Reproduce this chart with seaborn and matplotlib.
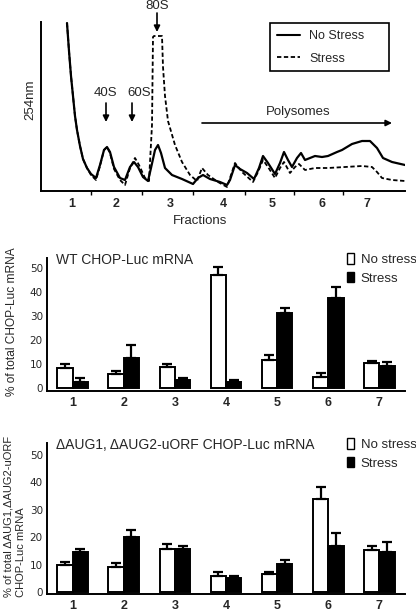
import numpy as np
import pandas as pd
import matplotlib
matplotlib.use("Agg")
import matplotlib.pyplot as plt
import seaborn as sns
from matplotlib.patches import Patch
from matplotlib.lines import Line2D

# ---- polysome profile (A254 trace) ----
# x = position along the gradient, y = absorbance (arbitrary units)
no_stress_x = [26, 28, 30, 32, 34, 36, 39, 42, 46, 50, 55, 59, 63, 66, 69, 73, 79, 84, 89, 93,
               97, 102, 107, 110, 114, 117, 120, 124, 131, 141, 152, 157, 162, 169, 179, 186,
               189, 194, 199, 206, 213, 218, 222, 227, 234, 239, 243, 247, 251, 256, 260, 264,
               269, 274, 281, 287, 296, 301, 311, 321, 329, 336, 342, 351, 364]
no_stress_y = [168, 140, 115, 95, 75, 61, 45, 32, 23, 17, 13, 26, 41, 44, 39, 24, 13, 11, 24, 29,
               24, 14, 10, 23, 41, 46, 38, 23, 16, 12, 7, 13, 16, 12, 9, 6,
               11, 26, 22, 18, 12, 23, 35, 28, 17, 28, 39, 31, 24, 33, 38, 31,
               33, 35, 34, 35, 39, 41, 47, 50, 50, 43, 33, 29, 26]
stress_x = [26, 28, 30, 32, 34, 36, 39, 42, 46, 50, 55, 59, 63, 66, 69, 73, 79, 84, 89, 94,
            98, 104, 108, 111, 112, 113, 121, 122, 124, 127, 134, 141, 149, 156, 161, 167,
            177, 186, 189, 194, 201, 212, 217, 222, 227, 234, 239, 243, 249, 254, 258, 264,
            274, 287, 304, 321, 331, 336, 341, 351, 364]
stress_y = [168, 140, 115, 95, 75, 61, 45, 32, 23, 16, 11, 25, 41, 44, 38, 22, 11, 6, 23, 33,
            26, 13, 10, 66, 154, 155, 155, 124, 95, 70, 46, 29, 16, 10, 23, 16,
            9, 4, 13, 28, 19, 9, 19, 31, 24, 13, 23, 29, 18, 24, 27, 21,
            23, 23, 24, 25, 24, 19, 13, 11, 10]
fraction_boundaries = [50, 101, 152, 204, 253, 302]
fraction_label_pos = [31, 75, 129, 182, 231, 281, 326]
fraction_labels = ["1", "2", "3", "4", "5", "6", "7"]

# ---- qPCR distribution across fractions ----
fractions = ["1", "2", "3", "4", "5", "6", "7"]
wt_no_stress = [8.5, 5.8, 8.8, 47.1, 11.7, 4.8, 10.3]
wt_no_stress_err = [1.7, 1.4, 1.4, 3.2, 1.9, 1.3, 1.0]
wt_stress = [2.6, 12.7, 3.3, 2.6, 31.0, 37.5, 9.2]
wt_stress_err = [1.4, 5.1, 1.1, 0.7, 2.1, 4.5, 1.8]

mut_no_stress = [9.8, 9.0, 15.6, 5.9, 6.5, 33.8, 15.3]
mut_no_stress_err = [1.0, 1.7, 1.9, 1.3, 0.9, 4.3, 1.5]
mut_stress = [14.4, 20.1, 15.6, 5.2, 10.2, 16.8, 14.4]
mut_stress_err = [1.2, 2.4, 1.2, 0.7, 1.4, 4.5, 3.7]

conditions = ["No stress", "Stress"]

sns.set_style("white")
plt.rcParams["font.family"] = ["Liberation Sans", "DejaVu Sans"]

W, H = 416, 611
fig = plt.figure(figsize=(W / 100, H / 100), dpi=100)


def px_axes(l, t, r, b):
    return fig.add_axes([l / W, 1 - b / H, (r - l) / W, (b - t) / H])


# ================= top: polysome profile =================
ax0 = px_axes(41, 22, 405, 191)
sns.lineplot(x=stress_x, y=stress_y, ax=ax0, color="black", lw=1.3,
             linestyle=(0, (2.4, 1.4)), sort=False, estimator=None)
sns.lineplot(x=no_stress_x, y=no_stress_y, ax=ax0, color="black", lw=1.6,
             sort=False, estimator=None, solid_joinstyle="round")
ax0.set_xlim(0, 364)
ax0.set_ylim(0, 169)
for s in ["top", "right"]:
    ax0.spines[s].set_visible(False)
for s in ["left", "bottom"]:
    ax0.spines[s].set_color("black")
    ax0.spines[s].set_linewidth(1.4)
ax0.set_yticks([])
ax0.set_xticks(fraction_label_pos)
ax0.set_xticklabels(fraction_labels, fontweight="bold", fontsize=9)
ax0.set_xticks(fraction_boundaries, minor=True)
ax0.tick_params(axis="x", which="major", length=0, pad=5)
ax0.tick_params(axis="x", which="minor", length=3, width=1, direction="out",
                bottom=True, color="black")
ax0.set_xlabel("Fractions", fontsize=9.5)
ax0.xaxis.set_label_coords((200 - 41) / 364, -0.14)
ax0.set_ylabel("254nm", fontsize=9.5)
ax0.yaxis.set_label_coords(-0.012, 0.54)

arrow = dict(arrowstyle="-|>", color="black", lw=1.2, mutation_scale=9, shrinkA=0, shrinkB=0)
ax0.annotate("", xy=(65, 69), xytext=(65, 88), arrowprops=arrow)
ax0.text(65, 98, "40S", ha="center", va="center", fontsize=9.5)
ax0.annotate("", xy=(91, 69), xytext=(91, 88), arrowprops=arrow)
ax0.text(98, 98, "60S", ha="center", va="center", fontsize=9.5)
ax0.annotate("", xy=(116, 159), xytext=(116, 178), arrowprops=arrow, annotation_clip=False)
ax0.text(116, 185, "80S", ha="center", va="center", fontsize=9.5, clip_on=False)
ax0.annotate("", xy=(351, 68), xytext=(161, 68), arrowprops=arrow)
ax0.text(257, 79, "Polysomes", ha="center", va="center", fontsize=9.5)

line_handles = [Line2D([], [], color="black", lw=1.5),
                Line2D([], [], color="black", lw=1.3, linestyle=(0, (2.4, 1.4)))]
leg0 = ax0.legend(line_handles, ["No Stress", "Stress"], loc="upper left",
                  bbox_to_anchor=(270 / W, 1 - 69 / H, 119 / W, 46 / H),
                  bbox_transform=fig.transFigure, mode="expand", fontsize=9,
                  handlelength=1.85, handletextpad=0.75, labelspacing=0.85,
                  borderpad=0.55, borderaxespad=0, fancybox=False, framealpha=1)
leg0.get_frame().set_edgecolor("black")
leg0.get_frame().set_linewidth(1.2)


# ================= bar panels =================
def bar_panel(ax, no_stress, no_err, stress, st_err, title):
    df = pd.DataFrame({
        "fraction": fractions * 2,
        "value": no_stress + stress,
        "condition": [conditions[0]] * 7 + [conditions[1]] * 7,
    })
    sns.barplot(data=df, x="fraction", y="value", hue="condition", ax=ax,
                palette={"No stress": "white", "Stress": "black"},
                edgecolor="black", linewidth=1.4, width=0.6, legend=False)
    for cont, err in zip(ax.containers, [no_err, st_err]):
        xs = [b.get_x() + b.get_width() / 2 for b in cont]
        ys = [b.get_height() for b in cont]
        ax.errorbar(xs, ys, yerr=[np.zeros(len(err)), err], fmt="none",
                    ecolor="black", elinewidth=1.6, capsize=3.5, capthick=1.6, zorder=1)
    ax.set_xlim(-0.5, 6.5)
    ax.set_yticks([0, 10, 20, 30, 40, 50])
    ax.tick_params(axis="y", length=0, pad=3, labelsize=7.5)
    for lab in ax.get_yticklabels():
        lab.set_fontfamily("DejaVu Sans")
    ax.tick_params(axis="x", length=0, pad=4)
    for lab in ax.get_xticklabels():
        lab.set_fontweight("bold")
        lab.set_fontsize(9)
    ax.set_xlabel("")
    ax.set_ylabel("")
    for s in ["top", "right"]:
        ax.spines[s].set_visible(False)
    for s in ["left", "bottom"]:
        ax.spines[s].set_color("black")
        ax.spines[s].set_linewidth(1.4)
    ax.text(0.025, 0.985, title, transform=ax.transAxes, ha="left", va="center",
            fontsize=10)


def bar_legend(ax, top_px):
    handles = [Patch(facecolor="white", edgecolor="black", lw=1.0),
               Patch(facecolor="black", edgecolor="black", lw=1.0)]
    ax.legend(handles, conditions, loc="upper left",
              bbox_to_anchor=(347 / W, 1 - top_px / H), bbox_transform=fig.transFigure,
              frameon=False, fontsize=9.5, handlelength=0.5, handleheight=0.85,
              handletextpad=0.55, labelspacing=0.45, borderpad=0, borderaxespad=0)


ax1 = px_axes(47, 258, 405, 391)
bar_panel(ax1, wt_no_stress, wt_no_stress_err, wt_stress, wt_stress_err,
          "WT CHOP-Luc mRNA")
ax1.set_ylim(-1.2, 54)
bar_legend(ax1, 253)
fig.text(12 / W, 1 - 322 / H, "% of total CHOP-Luc mRNA", rotation=90,
         ha="center", va="center", fontsize=8.6)

ax2 = px_axes(47, 443, 405, 594)
bar_panel(ax2, mut_no_stress, mut_no_stress_err, mut_stress, mut_stress_err,
          "\u0394AUG1, \u0394AUG2-uORF CHOP-Luc mRNA")
ax2.set_ylim(-0.7, 54.2)
bar_legend(ax2, 438)
fig.text(15 / W, 1 - 597 / H, "% of total \u0394AUG1,\u0394AUG2-uORF\nCHOP-Luc mRNA",
         rotation=90, ha="center", va="bottom", multialignment="left",
         fontsize=8, linespacing=1.25)

fig.savefig("out.png", dpi=100)
